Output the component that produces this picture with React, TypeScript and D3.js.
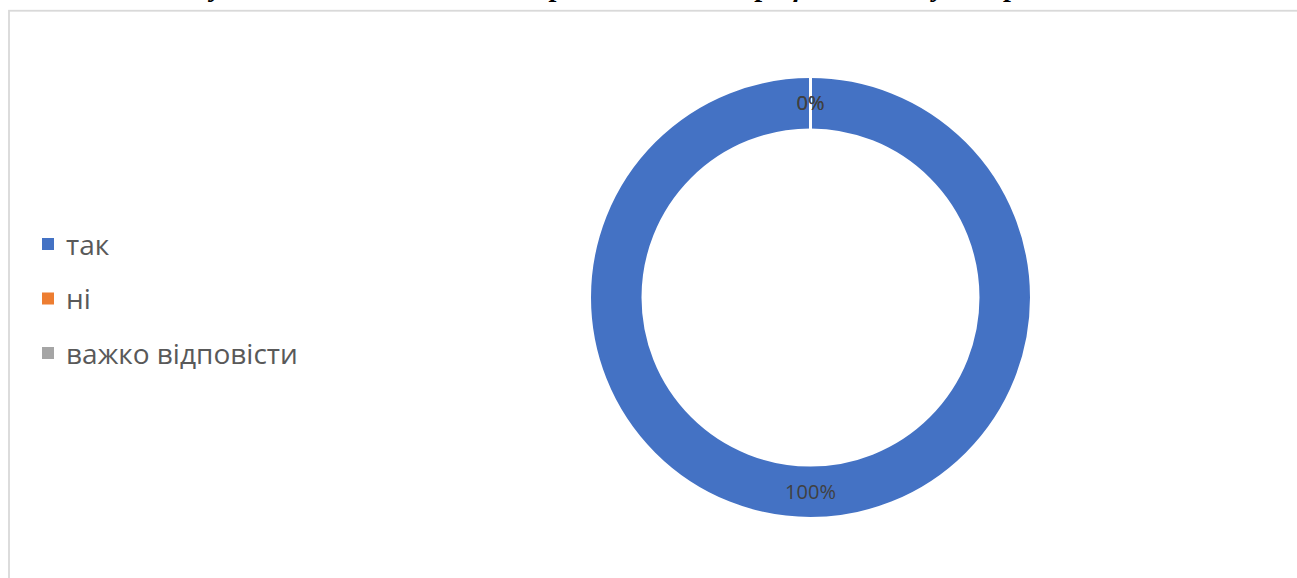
import React from "react";
import * as d3 from "d3";

const categories = ["так", "ні", "важко відповісти"];
const values = [100, 0, 0];
const colors = ["#4472C4", "#ED7D31", "#A5A5A5"];
const titleText = "Рисунок 2.5 – Чи задоволені ви рівнем оплати праці на вашому підприємстві?";

const W = 1297;
const H = 578;
const cx = 810.5;
const cy = 297.5;
const outerR = 221;
const innerR = 167.5;

export default function App() {
  const pie = d3.pie<number>().sort(null).value((d) => d)(values);
  const arc = d3.arc<d3.PieArcDatum<number>>().innerRadius(innerR).outerRadius(outerR);
  const labelArc = d3
    .arc<d3.PieArcDatum<number>>()
    .innerRadius((innerR + outerR) / 2)
    .outerRadius((innerR + outerR) / 2);
  const total = d3.sum(values);
  const legendY = d3.scalePoint<string>().domain(categories).range([245, 354]);

  return (
    <svg
      width={W}
      height={H}
      style={{ position: "fixed", left: 0, top: 0, background: "#fff" }}
    >
      <rect x={9} y={10.75} width={1400} height={700} fill="#fff" stroke="#d9d9d9" strokeWidth={1.8} />
      <text
        x={650}
        y={-4}
        textAnchor="middle"
        fontFamily="'Liberation Serif', 'Times New Roman', serif"
        fontWeight="bold"
        fontStyle="italic"
        fontSize={28}
        fill="#000"
      >
        {titleText}
      </text>
      <g transform={`translate(${cx},${cy})`}>
        {pie.map((p, i) => (
          <path key={i} d={arc(p) || ""} fill={colors[i]} stroke="#fff" strokeWidth={3} />
        ))}
        {pie.map((p, i) => {
          const [lx, ly] = labelArc.centroid(p);
          return (
            <text
              key={"l" + i}
              x={lx}
              y={ly}
              dy="0.35em"
              textAnchor="middle"
              fontFamily="'Open Sans', sans-serif"
              fontSize={20}
              fill="#404040"
            >
              {Math.round((values[i] / total) * 100) + "%"}
            </text>
          );
        })}
      </g>
      <g>
        {categories.map((c, i) => (
          <g key={c} transform={`translate(0,${legendY(c)})`}>
            <rect x={42} y={-7} width={12} height={12} fill={colors[i]} />
            <text
              x={66}
              y={0}
              dy="0.35em"
              fontFamily="'Open Sans', sans-serif"
              fontSize={28}
              fill="#595959"
            >
              {c}
            </text>
          </g>
        ))}
      </g>
    </svg>
  );
}
